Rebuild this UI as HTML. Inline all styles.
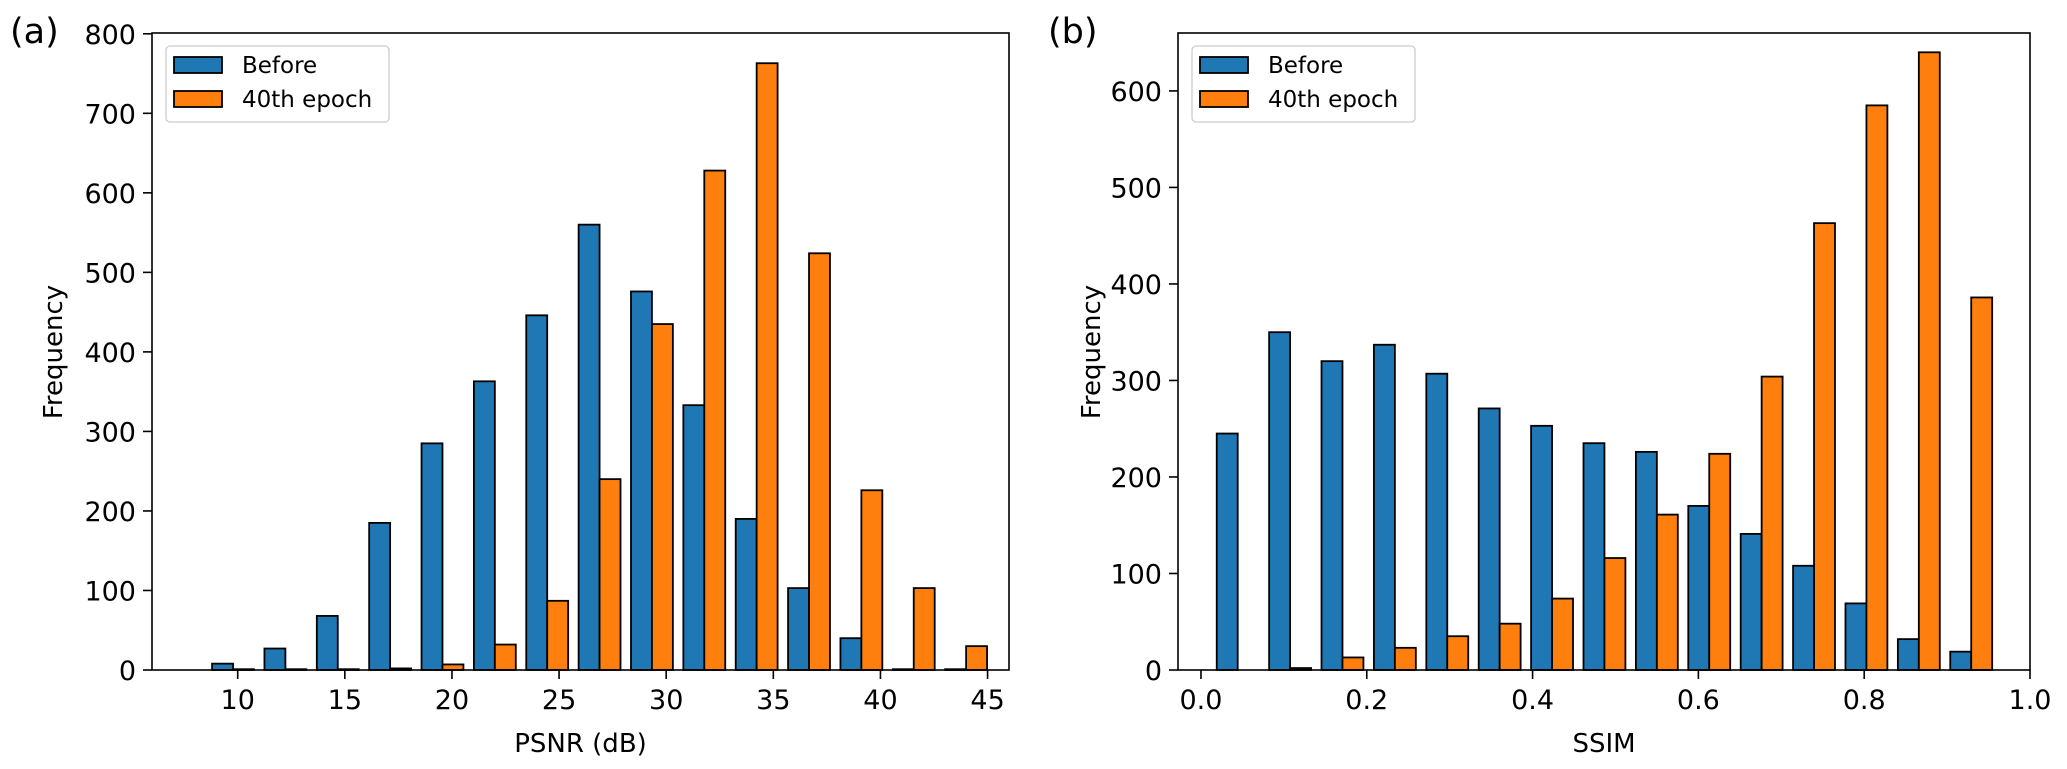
<!DOCTYPE html>
<html><head><meta charset="utf-8"><style>
html,body{margin:0;padding:0;background:#fff}
svg{display:block;font-family:"DejaVu Sans","Liberation Sans",sans-serif}
</style></head><body>
<svg id="fig" width="2067" height="769" viewBox="0 0 2067 769" xmlns="http://www.w3.org/2000/svg"></svg>
<script>
// Panel (a) data
const psnrBinStart = 8.56;
const psnrBinWidth = 2.444;
const psnrBefore = [8, 27, 68, 185, 285, 363, 446, 560, 476, 333, 190, 103, 40, 1, 1];
const psnrAfter = [1, 1, 1, 2, 7, 32, 87, 240, 435, 628, 763, 524, 226, 103, 30];
const psnrXTicks = [10, 15, 20, 25, 30, 35, 40, 45];
const psnrYTicks = [0, 100, 200, 300, 400, 500, 600, 700, 800];
// Panel (b) data
const ssimBinStart = 0.0127;
const ssimBinWidth = 0.0632;
const ssimBefore = [245, 350, 320, 337, 307, 271, 253, 235, 226, 170, 141, 108, 69, 32, 19];
const ssimAfter = [0, 2, 13, 23, 35, 48, 74, 116, 161, 224, 304, 463, 585, 640, 386];
const ssimXTicks = [0.0, 0.2, 0.4, 0.6, 0.8, 1.0];
const ssimYTicks = [0, 100, 200, 300, 400, 500, 600];
const legendLabels = ["Before", "40th epoch"];

const NS = "http://www.w3.org/2000/svg";
const svg = document.getElementById("fig");
function mk(tag, attrs, parent) {
  const e = document.createElementNS(NS, tag);
  for (const k in attrs) e.setAttribute(k, attrs[k]);
  (parent || svg).appendChild(e);
  return e;
}
const BLUE = "#1f77b4", ORANGE = "#ff7f0e";

function panel(cfg) {
  const g = mk("g", {});
  
  
  const L = cfg.left, R = cfg.right, T = 33, B = 670;
  const xs = v => L + (v - cfg.xmin) / (cfg.xmax - cfg.xmin) * (R - L);
  const ys = v => B - v / cfg.ymax * (B - T);
  const bw = cfg.binW;
  const barW = bw * cfg.rw / 2;
  cfg.before.forEach((v, i) => {
    const s = cfg.binStart + i * bw + (bw - 2 * barW) / 2;
    const r = mk("rect", {x: xs(s), y: ys(v), width: xs(s + barW) - xs(s), height: ys(0) - ys(v), fill: BLUE, stroke: "#000", "stroke-width": 1.8}, g);
    
    
  });
  cfg.after.forEach((v, i) => {
    const s = cfg.binStart + i * bw + (bw - 2 * barW) / 2 + barW;
    const r = mk("rect", {x: xs(s), y: ys(v), width: xs(s + barW) - xs(s), height: ys(0) - ys(v), fill: ORANGE, stroke: "#000", "stroke-width": 1.8}, g);
    
    
  });
  const fr = mk("rect", {x: L, y: T, width: R - L, height: B - T, fill: "none", stroke: "#000", "stroke-width": 1.6}, g);
  
  
  cfg.xticks.forEach(t => {
    const x = xs(t);
    mk("line", {x1: x, y1: B, x2: x, y2: B + 9, stroke: "#000", "stroke-width": 1.6}, g);
    const tx = mk("text", {x: x, y: 709, "font-size": 27, "text-anchor": "middle"}, g);
    tx.textContent = cfg.xfmt(t);
    
    
  });
  cfg.yticks.forEach(t => {
    const y = ys(t);
    mk("line", {x1: L - 9, y1: y, x2: L, y2: y, stroke: "#000", "stroke-width": 1.6}, g);
    const tx = mk("text", {x: L - 16, y: y + 10, "font-size": 27, "text-anchor": "end"}, g);
    tx.textContent = t;
    
    
  });
  const xl = mk("text", {x: (L + R) / 2, y: 752, "font-size": 26, "text-anchor": "middle"}, g);
  xl.textContent = cfg.xlabel;
  
  
  const yx = cfg.ylabelX;
  const yl = mk("text", {x: yx, y: 352, "font-size": 26, "text-anchor": "middle", transform: "rotate(-90 " + yx + " 352)"}, g);
  yl.textContent = "Frequency";
  
  
  const pl = mk("text", {x: cfg.tagX, y: 43, "font-size": 35}, g);
  pl.textContent = cfg.tag;
  
  
  const lg = mk("g", {}, g);
  
  
  const lx = L + 14;
  mk("rect", {x: lx, y: 46, width: 223, height: 76, rx: 4, fill: "#fff", "fill-opacity": 0.8, stroke: "#ccc", "stroke-width": 1.3}, lg);
  [BLUE, ORANGE].forEach((c, i) => {
    const e = mk("g", {}, lg);
    
    
    mk("rect", {x: lx + 8, y: 57 + i * 34, width: 48, height: 16, fill: c, stroke: "#000", "stroke-width": 1.8}, e);
    const t = mk("text", {x: lx + 76, y: 73 + i * 34, "font-size": 23}, e);
    t.textContent = legendLabels[i];
  });
}

panel({name: "psnr-histogram", left: 152, right: 1009, xmin: 6.0, xmax: 46.0, ymax: 801,
  binStart: psnrBinStart, binW: psnrBinWidth, rw: 0.8, before: psnrBefore, after: psnrAfter,
  xticks: psnrXTicks, yticks: psnrYTicks, xfmt: t => String(t), xlabel: "PSNR (dB)",
  ylabelX: 62, tag: "(a)", tagX: 10});
panel({name: "ssim-histogram", left: 1178, right: 2030, xmin: -0.0277, xmax: 1.0, ymax: 660,
  binStart: ssimBinStart, binW: ssimBinWidth, rw: 0.8, before: ssimBefore, after: ssimAfter,
  xticks: ssimXTicks, yticks: ssimYTicks, xfmt: t => t.toFixed(1), xlabel: "SSIM",
  ylabelX: 1100, tag: "(b)", tagX: 1048});
</script>
</body></html>
